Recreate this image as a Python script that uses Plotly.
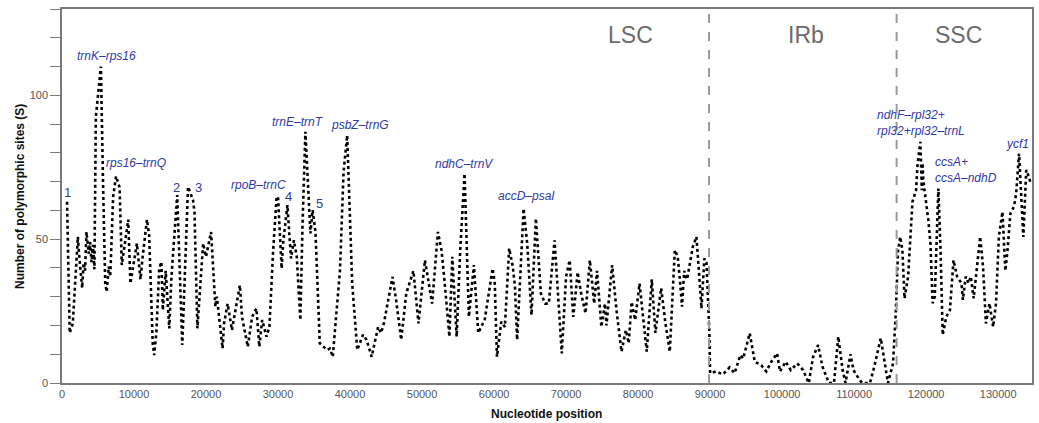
import plotly.graph_objects as go

# Sliding-window polymorphic sites along the plastome
position = [
    700, 1070, 1500, 2200, 2400, 2800, 3000, 3200, 3400, 3700, 3900, 4100, 4300, 4500,
    4700, 5000, 5400, 5700, 6000, 6200, 6500, 6700, 7100, 7500, 8000, 8300, 8800, 9200,
    9500, 10400, 10900, 11200, 11800, 12100, 12600, 12800, 13100, 13500, 13800, 14000,
    14400, 14900, 15200, 15700, 16000, 16700, 17500, 18200, 18400, 18800, 19600, 20000,
    20700, 21300, 21500, 22300, 22500, 23000, 23600, 24700, 25000, 25800, 26400, 27000,
    27400, 27800, 28400, 28800, 29300, 29800, 30000, 30500, 30700, 31300, 31800, 32200,
    32600, 33100, 33400, 33800, 34100, 34500, 34800, 35200, 35800, 36300, 36800, 37200,
    37600, 38100, 38600, 39100, 39600, 40300, 41000, 41800, 42300, 43000, 43900, 44300,
    44700, 45900, 46400, 47100, 47800, 48800, 49500, 50400, 51400, 52200, 52700, 53100,
    53800, 54200, 54800, 55300, 55900, 56500, 57200, 57800, 58700, 59800, 60100, 60400,
    61000, 61500, 62100, 62600, 62900, 63200, 64100, 64600, 65200, 65800, 66500, 67100,
    67600, 68400, 68800, 69400, 70000, 70500, 71000, 71600, 72100, 72700, 73300, 73900,
    74300, 74900, 75400, 75600, 76400, 77000, 77700, 78300, 78700, 79100, 79600, 80200,
    81200, 81900, 82400, 83200, 83800, 84400, 85100, 85500, 85800, 86100, 86400, 86800,
    87600, 88100, 88400, 88800, 89200, 89500, 89900, 90000, 90800, 91800, 92700, 93400,
    94200, 94600, 95500, 96200, 97100, 97800, 98500, 99300, 99700, 100500, 101200,
    102100, 102900, 103700, 104300, 105000, 105600, 106500, 107200, 107800, 108400,
    108800, 109500, 109900, 110600, 111100, 112200, 112800, 113700, 114000, 114700,
    115400, 115800, 116100, 116400, 116700, 117000, 117500, 118100, 118600, 118800,
    119200, 119400, 119500, 119600, 120300, 120600, 120900, 121200, 121700, 122000,
    122300, 122800, 123300, 123800, 124300, 124900, 125100, 125500, 125900, 126200,
    126600, 127200, 127500, 127900, 128300, 128800, 129300, 129700, 130100, 130600,
    130900, 131000, 131300, 131700, 132200, 132500, 132900, 133200, 133500, 133900,
    134300, 134500,
]
sites = [
    63, 17.4, 20.7, 50.8, 43.9, 33, 41.7, 39, 52.5, 45, 49, 42, 48, 39.5,
    92.5, 100.6, 110, 69.4, 34.7, 31.7, 40.5, 37, 64.7, 71.9, 68, 41, 50.8, 56.8,
    34.6, 48.5, 36, 43.9, 56.8, 51.4, 13.8, 9.7, 17.4, 39.8, 42.1, 25.3,
    39, 19, 37, 53.1, 65.3, 13.2, 68.2, 63.5, 59.4, 19, 48.5, 43.9,
    52.5, 26.5, 30, 12, 20.7, 27.6, 18.4, 34, 23, 12.6, 23, 25.9,
    12.6, 21.9, 16.1, 19.5, 45, 64.7, 64.7, 39.8, 48.5, 61.8, 43.3, 49.6,
    43.9, 21.9, 55, 87.3, 71.3, 52, 60.1, 52.5, 13.8, 12.5, 11.5, 12,
    9.1, 24.2, 39, 73.4, 86.1, 34.6, 11.5, 16.8, 15, 9.1, 19.5, 17.4,
    20.7, 36.9, 28.8, 15, 31.1, 39, 20.7, 42.7, 27.6, 52.5, 46.2, 36,
    16.1, 43.9, 16.1, 46.2, 72.8, 23, 41, 17.4, 22, 39.8, 34.6, 9.1,
    21.3, 19.5, 46.8, 40.5, 33.6, 15, 60.6, 48.5, 23.6, 57.2, 31.1, 27.6,
    27.6, 49.6, 34.6, 10.3, 37, 42.7, 23, 38.5, 31.1, 24.2, 42.7, 27.6,
    39, 19.5, 27.6, 20, 41, 25.3, 10.9, 18.4, 13.8, 28.2, 21.9, 34.6,
    10.9, 36, 17.4, 33, 20.7, 10.9, 46.2, 44, 36, 26.5, 39, 36,
    47.3, 50.8, 40.5, 25.9, 43.3, 41.7, 17.3, 3.4, 4, 3, 5.4, 3.4,
    9.7, 8.5, 17.3, 7.4, 6.2, 4, 7.4, 10.3, 4, 7.4, 4.5,
    6.8, 4.5, 0, 9.1, 13.2, 5.7, 0, 0, 16.1, 4.5,
    0, 10, 4.5, 1.7, 0, 0, 5.7, 15.6, 11, 0,
    6.8, 25.3, 46.2, 50.8, 46.2, 29.4, 37, 63, 67, 75.7,
    83.8, 67, 76.4, 70.6, 56.7, 48.5, 27.7, 30, 67.6, 46.2,
    16.7, 23, 25.3, 42.7, 37, 34.7, 28.9, 37, 34.7, 37,
    29.4, 45, 50.8, 40.5, 20.7, 27.7, 19.5, 27.7, 50.8, 59.5,
    46.2, 39, 46.2, 59, 61.3, 65.9, 79.7, 67, 50.8, 74,
    71.6, 69.3,
]

# Region boundaries and labels
boundaries = [89850, 115900]
region_names = ["LSC", "IRb", "SSC"]
region_x = [79000, 103300, 124500]

# Labelled hotspots
hot_text = ["trnK–rps16", "rps16–trnQ", "1", "2", "3", "rpoB–trnC", "4", "5",
            "trnE–trnT", "psbZ–trnG", "ndhC–trnV", "accD–psaI",
            "ndhF–rpl32+<br>rpl32+rpl32–trnL", "ccsA+<br>ccsA–ndhD", "ycf1"]
hot_x = [6200, 10250, 800, 15900, 19000, 27300, 31500, 35800,
         32750, 41350, 55800, 64500, 112850, 120900, 132700]
hot_y = [113.5, 76.4, 66.3, 68, 68, 68.75, 65, 62.5,
         90.6, 89.6, 76, 65, 90.4, 74, 83]
hot_anchor = ["center"] * 12 + ["left", "left", "center"]
italic = [True, True, False, False, False, True, False, False,
          True, True, True, True, True, True, True]

x_ticks = list(range(0, 140000, 10000))
x_ticktext = [str(v) for v in x_ticks]
y_ticks = list(range(0, 140, 10))
y_ticktext = [str(v) if v in (0, 50, 100) else "" for v in y_ticks]

FONT = "Arial, Liberation Sans, sans-serif"
BLUE = "#2F3AA8"

fig = go.Figure()
fig.add_trace(go.Scatter(
    x=position, y=sites, mode="lines",
    line=dict(color="black", width=2.6, dash="dot"),
    hoverinfo="skip", showlegend=False,
))

for b in boundaries:
    fig.add_shape(type="line", x0=b, x1=b, y0=0, y1=1, xref="x", yref="paper",
                  line=dict(color="#9a9a9a", width=2, dash="dash"))

for name, rx in zip(region_names, region_x):
    fig.add_annotation(x=rx, y=121, text=name, showarrow=False,
                       font=dict(family=FONT, size=23, color="#6b6b6b"),
                       xanchor="center", yanchor="middle")

for t, hx, hy, anc, it in zip(hot_text, hot_x, hot_y, hot_anchor, italic):
    fig.add_annotation(x=hx, y=hy, text=(f"<i>{t}</i>" if it else t), showarrow=False,
                       font=dict(family=FONT, size=12 if it else 13, color=BLUE),
                       xanchor=anc, yanchor="middle", align="left")

# Axis titles
fig.add_annotation(x=-0.0433, y=0.5, xref="paper", yref="paper", xanchor="center", yanchor="middle",
                   text="<b>Number of polymorphic sites (S)</b>", textangle=-90, showarrow=False,
                   font=dict(family=FONT, size=12, color="#111"))
fig.add_annotation(x=0.4996, y=-0.083, xref="paper", yref="paper", xanchor="center", yanchor="middle",
                   text="<b>Nucleotide position</b>", showarrow=False,
                   font=dict(family=FONT, size=12, color="#111"))

fig.update_layout(
    width=1039, height=423,
    margin=dict(l=62, r=7, t=9, b=40, autoexpand=False),
    paper_bgcolor="white", plot_bgcolor="white",
    font=dict(family=FONT, color="#444"),
)
fig.update_xaxes(
    range=[0, 134700], tickvals=x_ticks, ticktext=x_ticktext, ticks="", showgrid=False, zeroline=False,
    showline=True, linecolor="#7a7a7a", linewidth=1.5, mirror=True, automargin=False,
    tickfont=dict(size=11, color="#555"),
)
fig.update_yaxes(
    range=[0, 130], tickvals=y_ticks, ticktext=y_ticktext, ticks="outside", ticklen=10,
    tickcolor="#7a7a7a", showgrid=False, zeroline=False, automargin=False,
    showline=True, linecolor="#7a7a7a", linewidth=1.5, mirror=True,
    tickfont=dict(size=11, color="#555"),
)

fig.write_html("out.html", config={"displayModeBar": False},
               post_script="document.body.style.margin='0';")
